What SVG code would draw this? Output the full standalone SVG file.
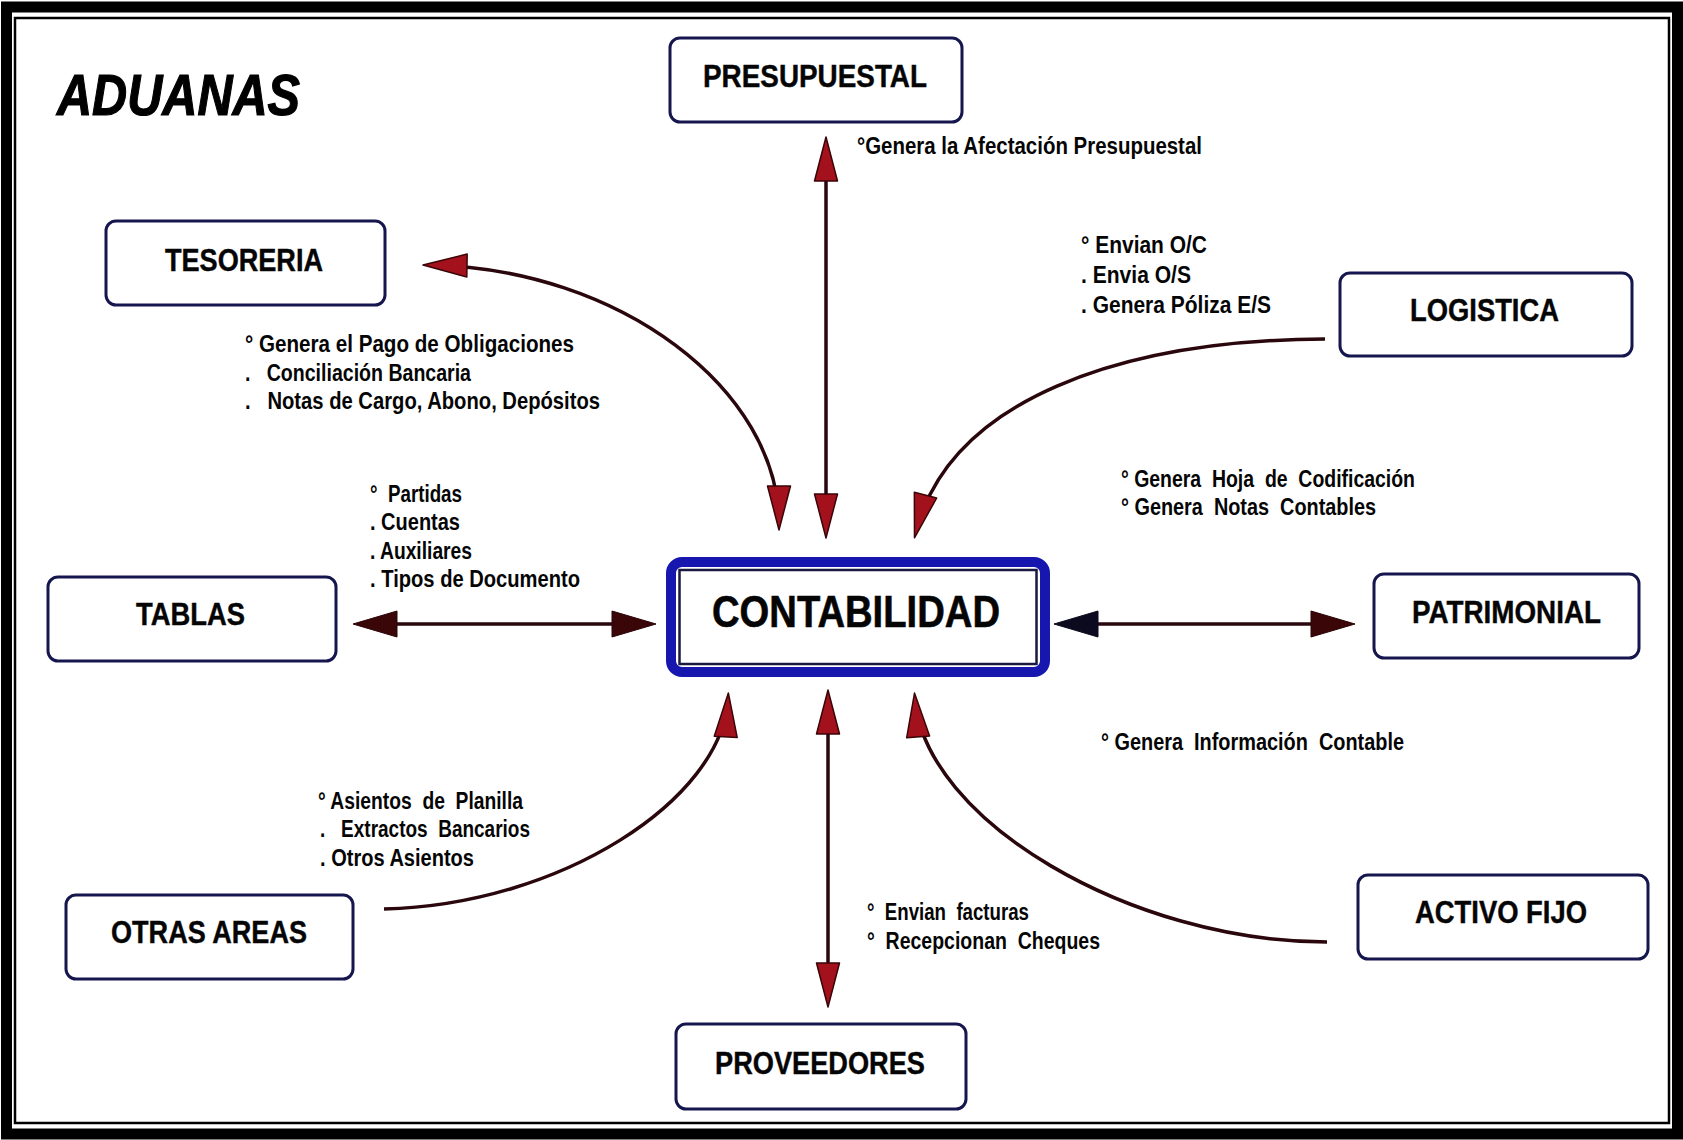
<svg xmlns="http://www.w3.org/2000/svg" width="1683" height="1140" viewBox="0 0 1683 1140">
  <style>
    .node rect { fill: #ffffff; stroke: #16164e; stroke-width: 3; }
    .node text { font-family: "Liberation Sans", Arial, sans-serif; font-weight: bold; font-size: 31px; fill: #050505; stroke: #050505; stroke-width: 0.4; }
    .lbl { font-family: "Liberation Sans", Arial, sans-serif; font-weight: bold; font-size: 23.5px; fill: #050505; white-space: pre; }
    .wire { fill: none; stroke: #2a070c; stroke-width: 3.5; }
  </style>
  <defs>
    <marker id="headRed" viewBox="0 0 44 23" refX="38" refY="11.5" markerWidth="44" markerHeight="23" markerUnits="userSpaceOnUse" orient="auto-start-reverse" overflow="visible">
      <path d="M0,0 L44,11.5 L0,23 Z" fill="#a3121c" stroke="#3a0508" stroke-width="1.5" stroke-linejoin="round"/>
    </marker>
    <marker id="headDark" viewBox="0 0 44 26" refX="38" refY="13" markerWidth="44" markerHeight="26" markerUnits="userSpaceOnUse" orient="auto-start-reverse" overflow="visible">
      <path d="M0,0 L44,13 L0,26 Z" fill="#3b0608" stroke="#2a0406" stroke-width="1"/>
    </marker>
    <marker id="headBlack" viewBox="0 0 44 26" refX="38" refY="13" markerWidth="44" markerHeight="26" markerUnits="userSpaceOnUse" orient="auto-start-reverse" overflow="visible">
      <path d="M0,0 L44,13 L0,26 Z" fill="#0c0a1e" stroke="#0c0a1e" stroke-width="1"/>
    </marker>
  </defs>

  <!-- page and double frame -->
  <rect x="0" y="0" width="1683" height="1140" fill="#ffffff"/>
  <rect x="6.5" y="7" width="1671" height="1127" fill="none" stroke="#000000" stroke-width="11"/>
  <rect x="15" y="18" width="1654" height="1105" fill="none" stroke="#000000" stroke-width="2.5"/>

  <!-- title -->
  <text x="57" y="115" font-family="Liberation Sans, Arial, sans-serif" font-weight="bold" font-style="italic" font-size="57" textLength="243" lengthAdjust="spacingAndGlyphs" fill="#000" stroke="#000" stroke-width="1.2">ADUANAS</text>

  <!-- connectors -->
  <g id="connectors">
    <path class="wire" d="M826 143 L826 532" marker-start="url(#headRed)" marker-end="url(#headRed)"/>
    <path class="wire" d="M429 265 C620 268 779 390 779 524" marker-start="url(#headRed)" marker-end="url(#headRed)"/>
    <path class="wire" d="M1325 339 C1120 340 950 400 916 532" marker-end="url(#headRed)"/>
    <path class="wire" d="M359 624 L650 624" marker-start="url(#headDark)" marker-end="url(#headDark)"/>
    <path class="wire" d="M1060 624 L1349 624" marker-start="url(#headBlack)" marker-end="url(#headDark)"/>
    <path class="wire" d="M384 909 C560 905 722 800 728 699" marker-end="url(#headRed)"/>
    <path class="wire" d="M828 696 L828 1001" marker-start="url(#headRed)" marker-end="url(#headRed)"/>
    <path class="wire" d="M1327 942 C1130 942 925 820 915 699" marker-end="url(#headRed)"/>
  </g>

  <!-- nodes -->
  <g id="presupuestal" class="node">
    <rect x="670" y="38" width="292" height="84" rx="10"/>
    <text x="703" y="87" textLength="224" lengthAdjust="spacingAndGlyphs">PRESUPUESTAL</text>
  </g>
  <g id="tesoreria" class="node">
    <rect x="106" y="221" width="279" height="84" rx="10"/>
    <text x="165" y="271" textLength="158" lengthAdjust="spacingAndGlyphs">TESORERIA</text>
  </g>
  <g id="logistica" class="node">
    <rect x="1340" y="273" width="292" height="83" rx="10"/>
    <text x="1410" y="321" textLength="149" lengthAdjust="spacingAndGlyphs">LOGISTICA</text>
  </g>
  <g id="tablas" class="node">
    <rect x="48" y="577" width="288" height="84" rx="10"/>
    <text x="136" y="625" textLength="109" lengthAdjust="spacingAndGlyphs">TABLAS</text>
  </g>
  <g id="contabilidad">
    <rect x="671" y="562" width="374" height="110" rx="11" fill="#ffffff" stroke="#1717b0" stroke-width="10"/>
    <rect x="679.5" y="570" width="357" height="94" fill="#ffffff" stroke="#1a1a40" stroke-width="2.5"/>
    <text x="712" y="627" font-family="Liberation Sans, Arial, sans-serif" font-weight="bold" font-size="44" textLength="288" lengthAdjust="spacingAndGlyphs" fill="#050505" stroke="#050505" stroke-width="0.6">CONTABILIDAD</text>
  </g>
  <g id="patrimonial" class="node">
    <rect x="1374" y="574" width="265" height="84" rx="10"/>
    <text x="1412" y="623" textLength="189" lengthAdjust="spacingAndGlyphs">PATRIMONIAL</text>
  </g>
  <g id="otras-areas" class="node">
    <rect x="66" y="895" width="287" height="84" rx="10"/>
    <text x="111" y="943" textLength="196" lengthAdjust="spacingAndGlyphs">OTRAS AREAS</text>
  </g>
  <g id="activo-fijo" class="node">
    <rect x="1358" y="875" width="290" height="84" rx="10"/>
    <text x="1415" y="923" textLength="172" lengthAdjust="spacingAndGlyphs">ACTIVO FIJO</text>
  </g>
  <g id="proveedores" class="node">
    <rect x="676" y="1024" width="290" height="85" rx="10"/>
    <text x="715" y="1074" textLength="210" lengthAdjust="spacingAndGlyphs">PROVEEDORES</text>
  </g>

  <!-- flow descriptions -->
  <g id="labels">
    <text class="lbl" x="857" y="154" textLength="345" lengthAdjust="spacingAndGlyphs">°Genera la Afectación Presupuestal</text>

    <text class="lbl" x="1081" y="253" textLength="126" lengthAdjust="spacingAndGlyphs">° Envian O/C</text>
    <text class="lbl" x="1081" y="283" textLength="110" lengthAdjust="spacingAndGlyphs">. Envia O/S</text>
    <text class="lbl" x="1081" y="313" textLength="190" lengthAdjust="spacingAndGlyphs">. Genera Póliza E/S</text>

    <text class="lbl" x="245" y="352" textLength="329" lengthAdjust="spacingAndGlyphs">° Genera el Pago de Obligaciones</text>
    <text class="lbl" x="245" y="381" textLength="226" lengthAdjust="spacingAndGlyphs">.   Conciliación Bancaria</text>
    <text class="lbl" x="245" y="409" textLength="355" lengthAdjust="spacingAndGlyphs">.   Notas de Cargo, Abono, Depósitos</text>

    <text class="lbl" x="370" y="502" textLength="92" lengthAdjust="spacingAndGlyphs">°  Partidas</text>
    <text class="lbl" x="370" y="530" textLength="90" lengthAdjust="spacingAndGlyphs">. Cuentas</text>
    <text class="lbl" x="370" y="559" textLength="102" lengthAdjust="spacingAndGlyphs">. Auxiliares</text>
    <text class="lbl" x="370" y="587" textLength="210" lengthAdjust="spacingAndGlyphs">. Tipos de Documento</text>

    <text class="lbl" x="1121" y="487" textLength="294" lengthAdjust="spacingAndGlyphs">° Genera  Hoja  de  Codificación</text>
    <text class="lbl" x="1121" y="515" textLength="255" lengthAdjust="spacingAndGlyphs">° Genera  Notas  Contables</text>

    <text class="lbl" x="1101" y="750" textLength="303" lengthAdjust="spacingAndGlyphs">° Genera  Información  Contable</text>

    <text class="lbl" x="318" y="809" textLength="205" lengthAdjust="spacingAndGlyphs">° Asientos  de  Planilla</text>
    <text class="lbl" x="320" y="837" textLength="210" lengthAdjust="spacingAndGlyphs">.   Extractos  Bancarios</text>
    <text class="lbl" x="320" y="866" textLength="154" lengthAdjust="spacingAndGlyphs">. Otros Asientos</text>

    <text class="lbl" x="867" y="920" textLength="162" lengthAdjust="spacingAndGlyphs">°  Envian  facturas</text>
    <text class="lbl" x="867" y="949" textLength="233" lengthAdjust="spacingAndGlyphs">°  Recepcionan  Cheques</text>
  </g>
</svg>
